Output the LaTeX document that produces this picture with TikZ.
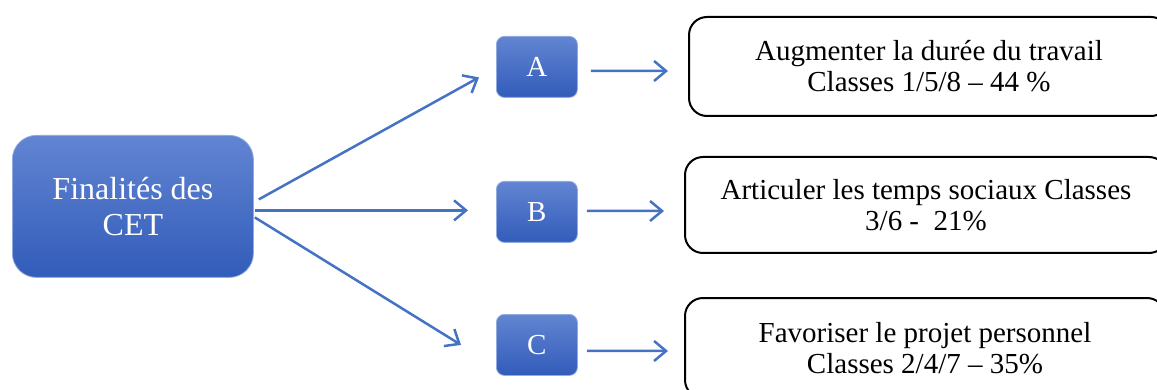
\documentclass[tikz,border=0pt]{standalone}
\usepackage{fontspec}
\setmainfont{Liberation Serif}
\usetikzlibrary{arrows.meta}
\definecolor{bleu}{RGB}{68,114,196}
\definecolor{bleuhaut}{RGB}{98,133,210}
\definecolor{bleubas}{RGB}{50,92,186}

\begin{document}
\begin{tikzpicture}[x=1pt,y=-1pt,
		bleubox/.style={rounded corners=8pt,top color=bleuhaut,bottom color=bleubas,draw=bleuhaut!70!white,line width=0.8pt,text=white,inner sep=0pt,font=\fontsize{29}{31}\selectfont},
		textbox/.style={draw,line width=2pt,rounded corners=18pt,align=center,inner sep=0pt,font=\fontsize{29}{31}\selectfont},
		fleche/.style={bleu,line width=2.5pt,-{Straight Barb[length=12pt,width=20pt]}}]
		\useasboundingbox (0,0) rectangle (1157,390);
		\clip (0,0) rectangle (1157,390);
		% boite principale
		\node[bleubox,rounded corners=24pt,anchor=north west,minimum width=241pt,minimum height=142pt,align=center,font=\fontsize{32}{36}\selectfont] (cet) at (12,135) {Finalités des\\CET};
		% petites boites
		\node[bleubox,anchor=north west,minimum width=81pt,minimum height=61pt] (a) at (496,36) {A};
		\node[bleubox,anchor=north west,minimum width=81pt,minimum height=61pt] (b) at (496,181) {B};
		\node[bleubox,anchor=north west,minimum width=81pt,minimum height=61pt] (c) at (496,314) {C};
		% boites de texte
		\node[textbox,anchor=north west,minimum width=480pt,minimum height=99pt] (ta) at (688,16) {Augmenter la durée du travail\\Classes 1/5/8 -- 44 \%};
		\node[textbox,anchor=north west,minimum width=482pt,minimum height=96pt] (tb) at (684,156) {Articuler les temps sociaux Classes\\3/6 -\ \ 21\%};
		\node[textbox,anchor=north west,minimum width=480pt,minimum height=100pt] (tc) at (684,297) {Favoriser le projet personnel\\Classes 2/4/7 -- 35\%};
		\coordinate (bin) at ([xshift=-28]b.west);
		% fleches
		\draw[fleche] ([shift={(5,-7)}]cet.east) -- ([shift={(-17,10.5)}]a.west);
		\draw[fleche] ([shift={(1,4)}]cet.east) coordinate (bout) -- (bout -| bin);
		\draw[fleche] ([shift={(1,11)}]cet.east) -- ([shift={(-35,0)}]c.west);
		\draw[fleche] ([shift={(13,4)}]a.east) -- ([shift={(-20,4.5)}]ta.west);
		\draw[fleche] ([shift={(9,-1)}]b.east) -- ([shift={(-20,6)}]tb.west);
		\draw[fleche] ([shift={(9,6)}]c.east) -- ([shift={(-16,3)}]tc.west);
\end{tikzpicture}
\end{document}
